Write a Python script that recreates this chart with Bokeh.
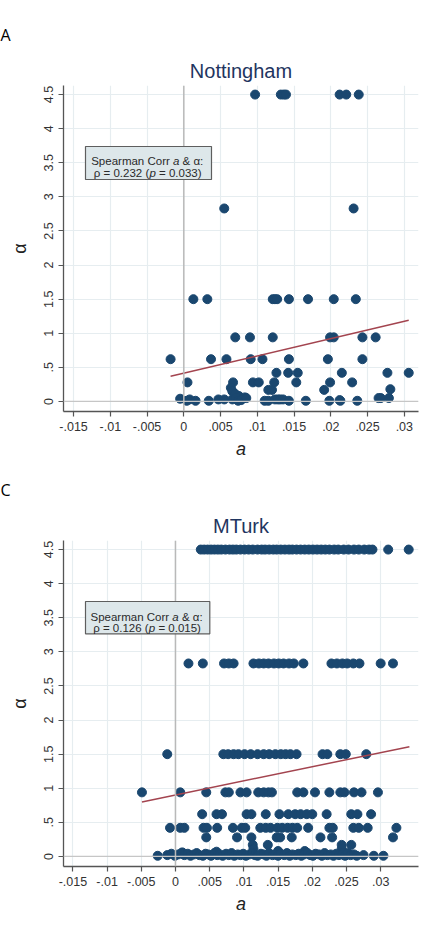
from bokeh.plotting import figure
from bokeh.layouts import column
from bokeh.models import Range1d, Span, Label, BoxAnnotation, Title
from bokeh.embed import file_html
from bokeh.resources import INLINE

# ---------------- tick labels ----------------
X_TICKS = [-0.015, -0.01, -0.005, 0.0, 0.005, 0.01, 0.015, 0.02, 0.025, 0.03]
X_TICK_LABELS = ["-.015", "-.01", "-.005", "0", ".005", ".01", ".015", ".02", ".025", ".03"]
Y_TICKS = [0.0, 0.5, 1.0, 1.5, 2.0, 2.5, 3.0, 3.5, 4.0, 4.5]
Y_TICK_LABELS = ["0", ".5", "1", "1.5", "2", "2.5", "3", "3.5", "4", "4.5"]

# ---------------- Nottingham (panel A) ----------------
NOTTS_A_450 = [0.0097, 0.0132, 0.0136, 0.0139, 0.0212, 0.0221, 0.0238]
NOTTS_A_283 = [0.0055, 0.0231]
NOTTS_A_150 = [0.0013, 0.0032, 0.0121, 0.0124, 0.0127, 0.0143, 0.0169, 0.0204, 0.0234]
NOTTS_A_094 = [0.0070, 0.0090, 0.0121, 0.0199, 0.0204, 0.0243, 0.0261]
NOTTS_A_062 = [-0.0018, 0.0037, 0.0058, 0.0091, 0.0107, 0.0143, 0.0196, 0.0243]
NOTTS_A_042 = [0.0126, 0.0142, 0.0155, 0.0215, 0.0277, 0.0306]
NOTTS_A_028 = [0.0005, 0.0067, 0.0094, 0.0102, 0.0123, 0.0153, 0.0199, 0.0229]
NOTTS_LOW_A = [0.0064, 0.0066, 0.0070, 0.0075, 0.0083, 0.0115, 0.0120, 0.0191, 0.0281,
               -0.0005, 0.0004, 0.0008, 0.0016, 0.0034, 0.0047, 0.0055, 0.0066, 0.0071,
               0.0074, 0.0078, 0.0085, 0.0110, 0.0115, 0.0124, 0.0128, 0.0131, 0.0135,
               0.0143, 0.0166, 0.0198, 0.0212, 0.0213, 0.0236, 0.0265, 0.0268, 0.0279]
NOTTS_LOW_ALPHA = [0.20, 0.15, 0.11, 0.08, 0.06, 0.17, 0.17, 0.17, 0.18,
                   0.04, 0.01, 0.03, 0.01, 0.01, 0.03, 0.03, 0.03, 0.05,
                   0.01, 0.02, 0.05, 0.01, 0.01, 0.03, 0.03, 0.03, 0.03,
                   0.01, 0.01, 0.01, 0.02, 0.01, 0.01, 0.05, 0.05, 0.05]
NOTTS_FIT_A = [-0.0018, 0.0306]
NOTTS_FIT_ALPHA = [0.37, 1.19]

# ---------------- MTurk (panel C) ----------------
MTURK_A_450 = [0.0037, 0.0042, 0.0047, 0.0052, 0.0057, 0.0062, 0.0067, 0.0073, 0.0079, 0.0084,
               0.0089, 0.0095, 0.0101, 0.0107, 0.0113, 0.0120, 0.0126, 0.0131, 0.0137, 0.0143,
               0.0148, 0.0154, 0.0160, 0.0166, 0.0171, 0.0177, 0.0183, 0.0189, 0.0195, 0.0201,
               0.0207, 0.0213, 0.0219, 0.0225, 0.0232, 0.0238, 0.0246, 0.0253, 0.0261, 0.0268,
               0.0276, 0.0283, 0.0288, 0.0311, 0.0341]
MTURK_A_283 = [0.0019, 0.0040, 0.0071, 0.0078, 0.0085, 0.0114, 0.0122, 0.0129, 0.0136, 0.0144,
               0.0151, 0.0158, 0.0166, 0.0173, 0.0187, 0.0228, 0.0236, 0.0244, 0.0251, 0.0260,
               0.0269, 0.0300, 0.0318]
MTURK_A_150 = [-0.0012, 0.0070, 0.0077, 0.0085, 0.0092, 0.0101, 0.0110, 0.0120, 0.0129, 0.0137,
               0.0146, 0.0154, 0.0161, 0.0168, 0.0177, 0.0215, 0.0222, 0.0241, 0.0249, 0.0279]
MTURK_A_094 = [-0.0049, 0.0007, 0.0045, 0.0073, 0.0078, 0.0095, 0.0104, 0.0121, 0.0129, 0.0136,
               0.0141, 0.0178, 0.0187, 0.0204, 0.0225, 0.0241, 0.0247, 0.0261, 0.0272, 0.0296]
MTURK_A_062 = [0.0039, 0.0060, 0.0068, 0.0104, 0.0111, 0.0132, 0.0152, 0.0165, 0.0175, 0.0183,
               0.0192, 0.0200, 0.0221, 0.0257, 0.0266, 0.0286]
MTURK_A_042 = [-0.0008, 0.0007, 0.0013, 0.0041, 0.0046, 0.0061, 0.0084, 0.0097, 0.0102, 0.0124,
               0.0132, 0.0139, 0.0149, 0.0156, 0.0164, 0.0171, 0.0178, 0.0194, 0.0225, 0.0230,
               0.0260, 0.0268, 0.0281, 0.0323]
MTURK_A_028 = [0.0045, 0.0090, 0.0111, 0.0148, 0.0153, 0.0170, 0.0212, 0.0229, 0.0318]
MTURK_LOW_A = [0.0113, 0.0135, 0.0243, 0.0257, 0.0114, 0.0150, 0.0189, 0.0243, 0.0245, 0.0060, 0.0010,
               -0.0026, -0.0012, -0.0006, -0.0001, 0.0004, 0.0009, 0.0013, 0.0018, 0.0022, 0.0027,
               0.0031, 0.0035, 0.0040, 0.0044, 0.0048, 0.0052, 0.0057, 0.0061, 0.0065, 0.0069,
               0.0074, 0.0078, 0.0082, 0.0086, 0.0091, 0.0095, 0.0099, 0.0103, 0.0108, 0.0112,
               0.0116, 0.0120, 0.0125, 0.0129, 0.0133, 0.0137, 0.0142, 0.0146, 0.0150, 0.0154,
               0.0159, 0.0163, 0.0167, 0.0171, 0.0176, 0.0180, 0.0184, 0.0188, 0.0193, 0.0197,
               0.0201, 0.0205, 0.0210, 0.0214, 0.0218, 0.0222, 0.0227, 0.0231, 0.0235, 0.0239,
               0.0244, 0.0248, 0.0252, 0.0256, 0.0261, 0.0265, 0.0275, 0.0290, 0.0304]
MTURK_LOW_ALPHA = [0.17, 0.17, 0.17, 0.17, 0.11, 0.08, 0.08, 0.11, 0.06, 0.07, 0.06,
                   0.01, 0.02, 0.04, 0.01, 0.03, 0.05, 0.02, 0.04, 0.01, 0.03,
                   0.05, 0.02, 0.01, 0.04, 0.03, 0.01, 0.05, 0.02, 0.03, 0.01,
                   0.04, 0.02, 0.05, 0.01, 0.03, 0.02, 0.04, 0.01, 0.03, 0.05,
                   0.02, 0.01, 0.04, 0.03, 0.01, 0.05, 0.02, 0.03, 0.01, 0.04,
                   0.02, 0.05, 0.01, 0.03, 0.02, 0.04, 0.01, 0.03, 0.05, 0.02,
                   0.01, 0.04, 0.03, 0.01, 0.05, 0.02, 0.03, 0.01, 0.04, 0.02,
                   0.03, 0.01, 0.05, 0.02, 0.03, 0.01, 0.02, 0.01, 0.01]
MTURK_FIT_A = [-0.0049, 0.0342]
MTURK_FIT_ALPHA = [0.80, 1.61]

LEVELS = [4.5, 2.83, 1.5, 0.94, 0.62, 0.42, 0.28]

# ---------------- style / geometry ----------------
FONT = "Liberation Sans"
DOT = "#1a476f"
FIT = "#a3444f"
W, H = 425, 466
FRAME_LEFT, FRAME_W, FRAME_H = 63, 355, 326
X_START = -0.01637
Y_START, Y_END = -0.147, 4.633


def build(rows, low_a, low_alpha):
    xs, ys = [], []
    for lvl, row in zip(LEVELS, rows):
        xs += row
        ys += [lvl] * len(row)
    return xs + low_a, ys + low_alpha


def panel(title, letter, xs, ys, fit_x, fit_y, rho, pval, x_end, top, geo):
    x0, x1, y0, y1 = X_START, x_end, Y_START, Y_END

    def dx(px):
        return x0 + (px - FRAME_LEFT) / FRAME_W * (x1 - x0)

    def dy(py):
        return y1 - (py - top) / FRAME_H * (y1 - y0)

    p = figure(width=W, height=H, x_range=Range1d(x0, x1), y_range=Range1d(y0, y1),
               output_backend="svg", toolbar_location=None, title=letter,
               min_border_left=FRAME_LEFT, min_border_right=W - FRAME_LEFT - FRAME_W,
               min_border_top=top, min_border_bottom=H - top - FRAME_H)
    p.outline_line_color = None
    p.background_fill_color = "white"
    p.border_fill_color = "white"

    # outer title: panel letter
    p.title.align = "left"
    p.title.offset = -FRAME_LEFT
    p.title.text_font = "Open Sans"
    p.title.text_font_size = "16px"
    p.title.text_font_style = "normal"
    p.title.text_color = "#000000"
    p.title.standoff = geo["letter_standoff"]
    # inner title: panel name
    p.add_layout(Title(text=title, align="center", text_font=FONT, text_font_size="20px",
                       text_font_style="normal", text_color="#1f3560",
                       standoff=geo["title_standoff"]), "above")

    for ax in (p.xaxis[0], p.yaxis[0]):
        ax.axis_line_color = "#555555"
        ax.axis_line_width = 1.3
        ax.major_tick_line_color = "#555555"
        ax.major_tick_line_width = 1.2
        ax.major_tick_in = 0
        ax.major_tick_out = 5
        ax.minor_tick_line_color = None
        ax.major_label_text_font = FONT
        ax.major_label_text_font_size = "12.5px"
        ax.major_label_text_color = "#333333"
        ax.axis_label_text_font = FONT
        ax.axis_label_text_font_size = "18px"
        ax.axis_label_text_color = "#222222"
    p.xaxis.ticker = X_TICKS
    p.xaxis.major_label_overrides = dict(zip(X_TICKS, X_TICK_LABELS))
    p.yaxis.ticker = Y_TICKS
    p.yaxis.major_label_overrides = dict(zip(Y_TICKS, Y_TICK_LABELS))
    p.yaxis.major_label_orientation = "vertical"
    p.xaxis.axis_label = "a"
    p.xaxis.axis_label_text_font_style = "italic"
    p.yaxis.axis_label = "α"
    p.yaxis.axis_label_text_font_style = "normal"
    p.yaxis.axis_label_standoff = 12

    p.xgrid.grid_line_color = "#e6edf0"
    p.ygrid.grid_line_color = "#e6edf0"
    p.xgrid.grid_line_width = 1.2
    p.ygrid.grid_line_width = 1.2

    p.add_layout(Span(location=0, dimension="height", line_color="#b9b9b9", line_width=1.5))
    p.add_layout(Span(location=0, dimension="width", line_color="#c6c6c6", line_width=1.3))

    p.scatter(xs, ys, size=9, fill_color=DOT, line_color=DOT)
    p.line(fit_x, fit_y, line_color=FIT, line_width=1.5)

    # legend box
    bl, br, bt, bb = geo["box"]
    p.add_layout(BoxAnnotation(left=dx(bl), right=dx(br), top=dy(bt), bottom=dy(bb),
                               fill_color="#dde7ea", fill_alpha=1.0,
                               line_color="#5e5e5e", line_width=1.2, line_alpha=1.0))
    fs = 11.5
    tc = "#2a2a2a"
    l1x, l1y = geo["line1"]
    l2x, l2y = geo["line2"]
    pieces = [
        (l1x, l1y, 0.0, "Spearman Corr", "normal"),
        (l1x, l1y, 81.8, "a", "italic"),
        (l1x, l1y, 91.4, "& α:", "normal"),
        (l2x, l2y, 0.0, "ρ = " + rho + " (", "normal"),
        (l2x, l2y, 55.6, "p", "italic"),
        (l2x, l2y, 65.2, "= " + pval + ")", "normal"),
    ]
    for px, py, off, txt, style in pieces:
        p.add_layout(Label(x=dx(px), y=dy(py), x_offset=off, text=txt, text_font=FONT,
                           text_font_size=f"{fs}px", text_font_style=style, text_color=tc,
                           text_align="left", text_baseline="alphabetic"))
    return p


nx, ny = build([NOTTS_A_450, NOTTS_A_283, NOTTS_A_150, NOTTS_A_094, NOTTS_A_062, NOTTS_A_042,
                NOTTS_A_028], NOTTS_LOW_A, NOTTS_LOW_ALPHA)
mx, my = build([MTURK_A_450, MTURK_A_283, MTURK_A_150, MTURK_A_094, MTURK_A_062, MTURK_A_042,
                MTURK_A_028], MTURK_LOW_A, MTURK_LOW_ALPHA)

geo_a = dict(box=(85, 211, 146, 179), line1=(90.7, 160), line2=(93.3, 172.7),
             title_standoff=7, letter_standoff=18)
geo_c = dict(box=(85, 209.3, 135, 167.3), line1=(90, 150), line2=(92.7, 161.7),
             title_standoff=7, letter_standoff=18)

pa = panel("Nottingham", "A", nx, ny, NOTTS_FIT_A, NOTTS_FIT_ALPHA, "0.232", "0.033",
           0.03193, 85, geo_a)
pc = panel("MTurk", "C", mx, my, MTURK_FIT_A, MTURK_FIT_ALPHA, "0.126", "0.015",
           0.03553, 74, geo_c)

layout = column(pa, pc, spacing=0)
open("out.html", "w").write(file_html(layout, INLINE))
